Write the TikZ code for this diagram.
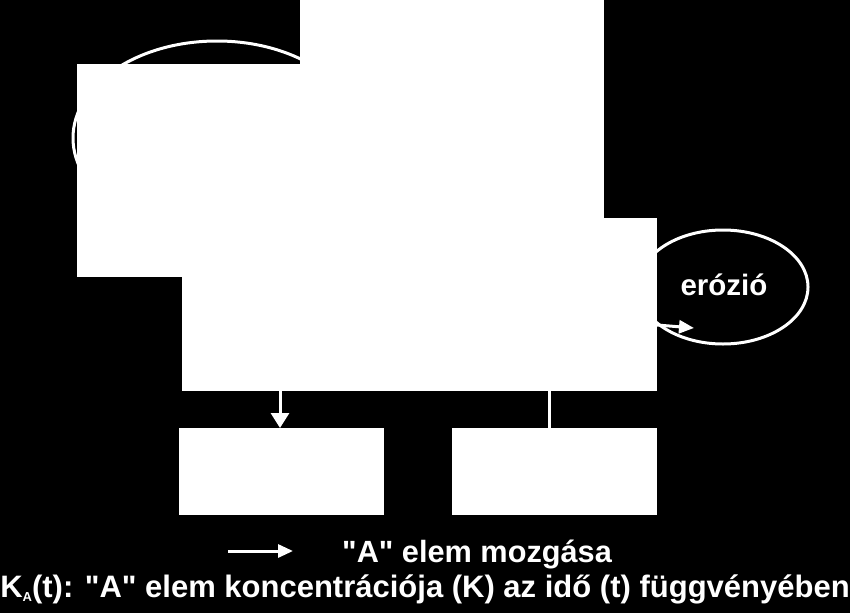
\documentclass[tikz,border=0pt]{standalone}
\usepackage{fontspec}
\setmainfont{Liberation Sans}[Ligatures=TeXOff]
\usetikzlibrary{arrows.meta,shapes.geometric}
\begin{document}
\begin{tikzpicture}[x=1pt,y=-1pt,
  box/.style={rectangle, fill=white, draw=none, inner sep=0pt, outer sep=0pt, anchor=north west},
  ring/.style={ellipse, draw=white, line width=3pt, inner sep=0pt},
  arr/.style={draw=white, line width=3pt, -{Triangle[length=15pt,width=18pt,fill=white]}},
  smallarr/.style={draw=white, line width=3pt, -{Triangle[length=15pt,width=13pt,fill=white]}},
  plain/.style={draw=white, line width=3pt},
  lbl/.style={text=white, font=\fontsize{30.7}{36}\selectfont\bfseries, inner sep=0pt}]
\fill[black] (0,0) rectangle (850,613);
\useasboundingbox (0,0) rectangle (850,613);
% ellipses (behind the boxes)
\node[ring, minimum width=288pt, minimum height=194pt] (cycle) at (217,138) {};
\node[ring, minimum width=170pt, minimum height=114pt] (eros) at (723,287) {};
% boxes
\node[box, minimum width=304pt, minimum height=230pt] (topbox) at (300,0) {};
\node[box, minimum width=330pt, minimum height=213pt] (leftbox) at (77,64) {};
\node[box, minimum width=475pt, minimum height=173pt] (mid) at (182,218) {};
\node[box, minimum width=205pt, minimum height=87pt] (bl) at (179,428) {};
\node[box, minimum width=205pt, minimum height=87pt] (br) at (452,428) {};
% erosion label
\node[lbl, font=\fontsize{29.5}{34}\selectfont\bfseries, anchor=base] (erotext) at (724,295) {erózió};
% connectors
\coordinate (erostart) at (657,325);
\coordinate (erotip) at (694,328);
\draw[smallarr] (erostart) -- (erotip);
\draw[arr] (mid.south -| 280,0) -- (bl.north -| 280,0);
\draw[plain] (mid.south -| 549,0) -- (br.north -| 549,0);
% legend
\coordinate (la) at (228,551);
\coordinate (lb) at (293,551);
\draw[smallarr] (la) -- (lb);
\node[lbl, anchor=base west] (legend) at (342,562) {"A" elem mozgása};
\node[lbl, font=\fontsize{31}{36}\selectfont\bfseries, anchor=base] (caption) at (425,597) {K\raisebox{-4pt}{\fontsize{13}{13}\selectfont A}(t): "A" elem koncentrációja (K) az idő (t) függvényében};
\end{tikzpicture}
\end{document}
